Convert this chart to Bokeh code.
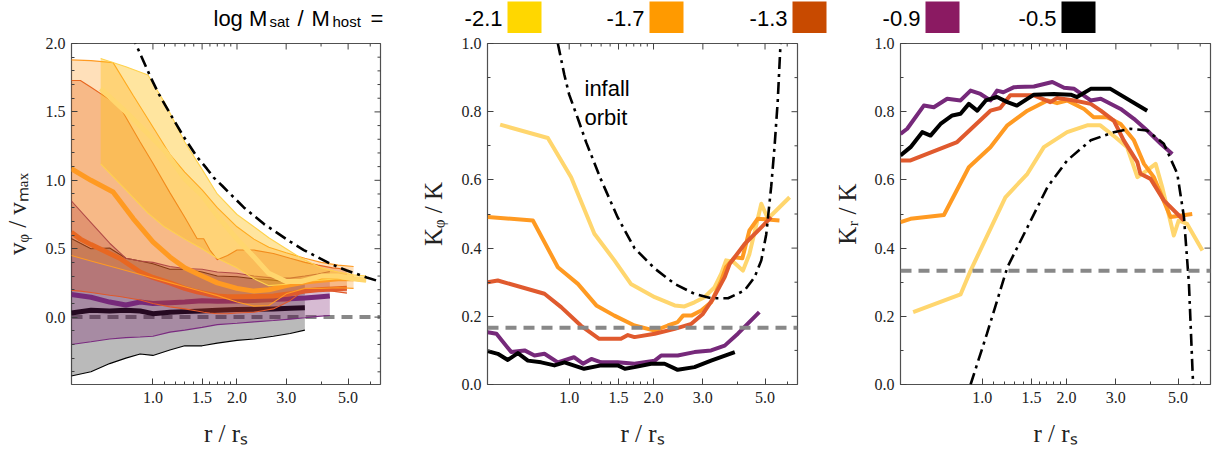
import math
from bokeh.plotting import figure
from bokeh.layouts import column, row
from bokeh.models import FixedTicker, PrintfTickFormatter, Range1d, Span, Label
from bokeh.embed import file_html
from bokeh.resources import INLINE

# ---------------- data ----------------
MASS_LABELS = ["-2.1", "-1.7", "-1.3", "-0.9", "-0.5"]
LEGEND_COLORS = ["#FFD700", "#FF9A00", "#C84A00", "#8B1A62", "#000000"]
LINE_COLORS = ["#FFD66E", "#FF9A22", "#E05A2E", "#76297A", "#000000"]
THIN_COLORS = ["#FFD24D", "#FF9A22", "#E0582A", "#7A2A80", "#000000"]
BAND_COLORS = ["#FFC21A", "#FF8C00", "#D94A10", "#7A1E6E", "#000000"]
BAND_ALPHAS = [0.42, 0.27, 0.29, 0.30, 0.27]

X_TICKS = [1.0, 1.5, 2.0, 3.0, 5.0]
X_MINOR = [1.1, 1.2, 1.3, 1.4, 1.6, 1.7, 1.8, 1.9, 4.0, 6.0]
X_LIM = (0.511, 6.53)

# panel 1: v_phi / v_max  (lower, median, upper per mass ratio)
R1_Y = [0.65, 0.8, 0.96, 1.1, 1.3, 1.5, 1.7, 2.0, 2.3, 2.6, 3.0, 3.4, 4.0, 4.6, 5.2, 5.8]
LO1_Y = [1.12, 0.93, 0.76, 0.66, 0.57, 0.50, 0.43, 0.36, 0.28, 0.23, 0.24, 0.26, 0.27, 0.28, 0.27, 0.26]
MED1_Y = [1.67, 1.50, 1.34, 1.22, 1.01, 0.89, 0.74, 0.57, 0.44, 0.32, 0.26, 0.26, 0.30, 0.30, 0.28, 0.27]
HI1_Y = [1.89, 1.83, 1.77, 1.57, 1.28, 1.08, 0.90, 0.75, 0.66, 0.58, 0.50, 0.43, 0.36, 0.33, 0.31, 0.30]

R1_O = [0.51, 0.6, 0.72, 0.85, 1.0, 1.15, 1.3, 1.5, 1.7, 2.0, 2.3, 2.6, 3.0, 3.5, 4.0, 4.6, 5.23]
LO1_O = [0.45, 0.41, 0.366, 0.326, 0.286, 0.252, 0.222, 0.187, 0.157, 0.11, 0.08, 0.085, 0.17, 0.21, 0.21, 0.215, 0.21]
MED1_O = [1.085, 1.0, 0.915, 0.72, 0.55, 0.44, 0.36, 0.30, 0.25, 0.21, 0.19, 0.20, 0.23, 0.256, 0.27, 0.28, 0.28]
HI1_O = [1.88, 1.875, 1.86, 1.62, 1.39, 1.19, 1.06, 0.93, 0.80, 0.66, 0.57, 0.51, 0.47, 0.43, 0.40, 0.38, 0.37]

R1_R = [0.51, 0.55, 0.6, 0.7, 0.76, 0.9, 1.0, 1.15, 1.3, 1.44, 1.52, 1.6, 1.7, 1.85, 2.0, 2.3, 2.7, 3.1, 3.5, 3.9, 4.4, 4.95]
LO1_R = [0.195, 0.19, 0.18, 0.16, 0.15, 0.125, 0.10, 0.075, 0.06, 0.045, 0.035, 0.03, 0.025, 0.025, 0.03, 0.035, 0.06, 0.12, 0.2, 0.2, 0.19, 0.175]
MED1_R = [0.62, 0.57, 0.53, 0.465, 0.43, 0.33, 0.29, 0.25, 0.21, 0.185, 0.175, 0.165, 0.155, 0.148, 0.148, 0.15, 0.155, 0.17, 0.19, 0.2, 0.205, 0.21]
HI1_R = [1.73, 1.73, 1.68, 1.59, 1.54, 1.28, 1.125, 0.91, 0.73, 0.573, 0.573, 0.49, 0.42, 0.45, 0.49, 0.49, 0.465, 0.43, 0.40, 0.38, 0.36, 0.35]

R1_P = [0.51, 0.6, 0.7, 0.8, 0.9, 1.0, 1.15, 1.3, 1.5, 1.7, 2.0, 2.3, 2.7, 3.1, 3.5, 3.9, 4.3]
LO1_P = [-0.20, -0.18, -0.16, -0.15, -0.145, -0.14, -0.11, -0.095, -0.075, -0.055, -0.045, -0.035, -0.025, -0.015, -0.005, 0.005, 0.012]
MED1_P = [0.165, 0.145, 0.11, 0.088, 0.11, 0.10, 0.105, 0.11, 0.12, 0.115, 0.118, 0.122, 0.128, 0.135, 0.14, 0.147, 0.155]
HI1_P = [0.85, 0.69, 0.54, 0.43, 0.41, 0.40, 0.37, 0.355, 0.35, 0.33, 0.32, 0.30, 0.285, 0.285, 0.30, 0.315, 0.333]

R1_B = [0.51, 0.6, 0.7, 0.8, 0.9, 1.0, 1.15, 1.3, 1.5, 1.7, 2.0, 2.3, 2.7, 3.1, 3.5]
LO1_B = [-0.43, -0.40, -0.34, -0.30, -0.27, -0.28, -0.24, -0.21, -0.21, -0.19, -0.17, -0.16, -0.14, -0.12, -0.095]
MED1_B = [0.03, 0.05, 0.045, 0.05, 0.045, 0.025, 0.035, 0.04, 0.045, 0.05, 0.055, 0.057, 0.06, 0.065, 0.068]
HI1_B = [0.575, 0.50, 0.505, 0.43, 0.41, 0.39, 0.35, 0.35, 0.33, 0.30, 0.295, 0.28, 0.27, 0.255, 0.25]

R1_INF = [0.84, 0.867, 0.98, 1.05, 1.17, 1.29, 1.44, 1.56, 1.65, 1.77, 2.12, 2.5, 3.11, 3.47, 4.32, 4.95, 5.83, 6.6]
V1_INF = [2.08, 2.0, 1.756, 1.63, 1.463, 1.317, 1.17, 1.085, 1.02, 0.96, 0.80, 0.68, 0.55, 0.49, 0.39, 0.34, 0.29, 0.255]

# panel 2: K_phi / K
R2_Y = [0.567, 0.839, 1.016, 1.23, 1.45, 1.66, 2.02, 2.38, 2.58, 2.80, 3.04, 3.30, 3.49, 3.63, 3.85, 4.17, 4.40, 4.85, 5.12, 6.12]
V2_Y = [0.762, 0.723, 0.608, 0.442, 0.364, 0.295, 0.256, 0.232, 0.229, 0.241, 0.256, 0.285, 0.325, 0.364, 0.36, 0.334, 0.383, 0.53, 0.486, 0.549]
R2_O = [0.512, 0.742, 0.911, 1.074, 1.25, 1.45, 1.71, 2.02, 2.25, 2.44, 2.55, 2.73, 2.96, 3.21, 3.49, 3.63, 3.90, 4.15, 4.40, 4.71, 5.63]
V2_O = [0.491, 0.481, 0.344, 0.295, 0.232, 0.202, 0.173, 0.158, 0.173, 0.183, 0.202, 0.202, 0.217, 0.241, 0.305, 0.344, 0.373, 0.37, 0.452, 0.486, 0.481]
R2_R = [0.512, 0.556, 0.816, 0.936, 1.10, 1.28, 1.53, 1.62, 1.71, 2.02, 2.38, 2.73, 3.0, 3.26, 3.59, 3.74, 4.23, 4.85, 5.26]
V2_R = [0.30, 0.305, 0.266, 0.227, 0.173, 0.134, 0.134, 0.145, 0.139, 0.149, 0.163, 0.178, 0.207, 0.251, 0.315, 0.354, 0.412, 0.461, 0.491]
R2_P = [0.512, 0.55, 0.621, 0.693, 0.752, 0.816, 0.911, 1.04, 1.12, 1.20, 1.30, 1.49, 1.71, 2.02, 2.13, 2.44, 2.80, 3.21, 3.59, 4.0, 4.77]
V2_P = [0.153, 0.149, 0.095, 0.10, 0.085, 0.09, 0.065, 0.08, 0.061, 0.075, 0.065, 0.065, 0.061, 0.07, 0.085, 0.085, 0.095, 0.10, 0.114, 0.149, 0.212]
R2_B = [0.512, 0.556, 0.604, 0.656, 0.712, 0.794, 0.886, 0.962, 1.13, 1.30, 1.49, 1.58, 1.71, 1.96, 2.19, 2.44, 2.80, 3.21, 3.90]
V2_B = [0.098, 0.09, 0.072, 0.092, 0.07, 0.065, 0.056, 0.065, 0.046, 0.056, 0.056, 0.046, 0.051, 0.061, 0.061, 0.043, 0.051, 0.07, 0.095]
R2_INF = [0.911, 0.96, 1.0, 1.074, 1.15, 1.3, 1.49, 1.71, 2.02, 2.38, 2.8, 3.21, 3.69, 4.23, 4.59, 4.85, 5.05, 5.26, 5.41, 5.55, 5.68]
V2_INF = [1.0, 0.91, 0.85, 0.78, 0.71, 0.60, 0.49, 0.40, 0.34, 0.295, 0.266, 0.253, 0.253, 0.276, 0.315, 0.364, 0.44, 0.58, 0.70, 0.83, 1.0]

# panel 3: K_r / K
R3_Y = [0.567, 0.837, 0.909, 1.21, 1.45, 1.66, 2.01, 2.37, 2.64, 2.99, 3.29, 3.58, 3.88, 4.16, 4.39, 4.83, 5.03, 5.39, 6.11]
V3_Y = [0.212, 0.264, 0.334, 0.549, 0.618, 0.696, 0.74, 0.76, 0.76, 0.725, 0.696, 0.608, 0.628, 0.647, 0.579, 0.437, 0.481, 0.471, 0.393]
R3_O = [0.511, 0.555, 0.73, 0.896, 1.07, 1.23, 1.45, 1.71, 1.85, 2.01, 2.31, 2.50, 2.79, 3.12, 3.48, 3.78, 4.1, 4.34, 4.7, 5.62]
V3_O = [0.476, 0.486, 0.497, 0.637, 0.696, 0.76, 0.803, 0.833, 0.825, 0.833, 0.808, 0.784, 0.784, 0.764, 0.716, 0.647, 0.608, 0.559, 0.491, 0.50]
R3_R = [0.511, 0.555, 0.814, 1.07, 1.16, 1.26, 1.53, 1.75, 1.85, 2.13, 2.44, 2.65, 2.95, 3.20, 3.58, 3.67, 3.99, 4.45, 5.25]
V3_R = [0.657, 0.657, 0.711, 0.803, 0.811, 0.848, 0.848, 0.828, 0.84, 0.833, 0.823, 0.803, 0.774, 0.716, 0.652, 0.618, 0.603, 0.54, 0.481]
R3_P = [0.511, 0.54, 0.619, 0.672, 0.75, 0.837, 0.909, 0.986, 1.07, 1.13, 1.19, 1.30, 1.53, 1.78, 1.96, 2.13, 2.44, 2.65, 3.12, 3.48, 3.88, 4.34, 4.77]
V3_P = [0.735, 0.75, 0.818, 0.813, 0.838, 0.833, 0.862, 0.852, 0.833, 0.862, 0.857, 0.872, 0.874, 0.887, 0.87, 0.867, 0.833, 0.838, 0.808, 0.779, 0.745, 0.706, 0.676]
R3_B = [0.511, 0.555, 0.611, 0.654, 0.71, 0.782, 0.837, 0.896, 0.96, 1.03, 1.13, 1.23, 1.33, 1.53, 1.80, 2.07, 2.18, 2.44, 2.87, 3.88]
V3_B = [0.672, 0.696, 0.74, 0.73, 0.764, 0.789, 0.794, 0.823, 0.803, 0.833, 0.843, 0.828, 0.818, 0.85, 0.852, 0.85, 0.843, 0.867, 0.867, 0.803]
R3_INF = [0.909, 1.04, 1.23, 1.45, 1.71, 2.01, 2.44, 2.95, 3.38, 3.88, 4.45, 4.97, 5.25, 5.47, 5.66]
V3_INF = [0.0, 0.149, 0.344, 0.461, 0.579, 0.657, 0.716, 0.74, 0.75, 0.745, 0.706, 0.618, 0.491, 0.295, 0.0]

ISOTROPIC = [0.0, 1.0 / 6.0, 1.0 / 3.0]

SERIF = "Liberation Serif"
SANS = "Liberation Sans"
LEG_H = 33
PANEL_H = 453 - LEG_H
TICK_COLOR = "#404040"


def make_panel(width, left, right, ylim, yticks, yminor, ylabel, ylab_standoff):
    p = figure(width=width, height=PANEL_H, x_axis_type="log",
               x_range=Range1d(*X_LIM), y_range=Range1d(*ylim),
               output_backend="svg", toolbar_location=None,
               min_border_left=left, min_border_right=right,
               min_border_top=10, min_border_bottom=69)
    p.grid.visible = False
    p.outline_line_color = "#505050"
    p.outline_line_width = 1.2
    p.background_fill_color = "white"
    p.border_fill_color = "white"
    p.xaxis.ticker = FixedTicker(ticks=X_TICKS, minor_ticks=X_MINOR)
    p.yaxis.ticker = FixedTicker(ticks=yticks, minor_ticks=yminor)
    for ax in p.axis:
        ax.formatter = PrintfTickFormatter(format="%.1f")
        ax.axis_line_color = None
        ax.major_tick_in = 6
        ax.major_tick_out = 0
        ax.minor_tick_in = 3
        ax.minor_tick_out = 0
        ax.major_tick_line_color = TICK_COLOR
        ax.minor_tick_line_color = TICK_COLOR
        ax.major_label_text_font = SERIF
        ax.major_label_text_font_size = "16px"
        ax.major_label_text_color = "#222222"
        ax.axis_label_text_font = SERIF
        ax.axis_label_text_font_size = "25px"
        ax.axis_label_text_font_style = "normal"
        ax.axis_label_text_color = "#222222"
    xa = p.xaxis[0]
    xa.major_label_standoff = 7
    xa.axis_label = "r / rₛ"
    xa.axis_label_standoff = 14
    ya = p.yaxis[0]
    ya.major_label_standoff = 6
    ya.axis_label = ylabel
    ya.axis_label_standoff = ylab_standoff
    # mirrored inward ticks on top and right edges (dash markers centred on the frame edge)
    p.scatter(x=X_TICKS, y=[ylim[1]] * len(X_TICKS), marker="dash", angle=math.pi / 2,
              size=12, line_color=TICK_COLOR, line_width=1)
    p.scatter(x=X_MINOR, y=[ylim[1]] * len(X_MINOR), marker="dash", angle=math.pi / 2,
              size=6, line_color=TICK_COLOR, line_width=1)
    p.scatter(x=[X_LIM[1]] * len(yticks), y=yticks, marker="dash",
              size=12, line_color=TICK_COLOR, line_width=1)
    p.scatter(x=[X_LIM[1]] * len(yminor), y=yminor, marker="dash",
              size=6, line_color=TICK_COLOR, line_width=1)
    return p


def dashdot(p, r, v):
    p.line(r, v, line_color="black", line_width=2.6, line_dash="12 5 3 5")


# ---------- panel 1 ----------
p1 = make_panel(390, 70, 10, (-0.4927, 2.0), [0.0, 0.5, 1.0, 1.5, 2.0],
                [-0.4, -0.3, -0.2, -0.1, 0.1, 0.2, 0.3, 0.4, 0.6, 0.7, 0.8, 0.9,
                 1.1, 1.2, 1.3, 1.4, 1.6, 1.7, 1.8, 1.9], "vᵩ / vₘₐₓ", 12)
p1.add_layout(Span(location=ISOTROPIC[0], dimension="width", line_color="#888888",
                   line_width=4, line_dash="11 7", level="underlay"))
bands = [
    (4, R1_B, LO1_B, MED1_B, HI1_B),
    (3, R1_P, LO1_P, MED1_P, HI1_P),
    (2, R1_R, LO1_R, MED1_R, HI1_R),
    (1, R1_O, LO1_O, MED1_O, HI1_O),
    (0, R1_Y, LO1_Y, MED1_Y, HI1_Y),
]
for i, r, lo, med, hi in bands:
    p1.varea(x=r, y1=lo, y2=hi, fill_color=BAND_COLORS[i], fill_alpha=BAND_ALPHAS[i])
    p1.line(r, lo, line_color=THIN_COLORS[i], line_width=1.1)
    p1.line(r, hi, line_color=THIN_COLORS[i], line_width=1.1)
    p1.line(r, med, line_color=LINE_COLORS[i], line_width=5, line_join="round")
dashdot(p1, R1_INF, V1_INF)

# ---------- panel 2 ----------
p2 = make_panel(417, 97, 10, (0.0, 1.0), [0.0, 0.2, 0.4, 0.6, 0.8, 1.0],
                [0.1, 0.3, 0.5, 0.7, 0.9], "Kᵩ / K", 12)
for i, (r, v) in enumerate([(R2_Y, V2_Y), (R2_O, V2_O), (R2_R, V2_R), (R2_P, V2_P), (R2_B, V2_B)]):
    p2.line(r, v, line_color=LINE_COLORS[i], line_width=4, line_join="round")
p2.add_layout(Span(location=ISOTROPIC[1], dimension="width", line_color="#888888",
                   line_width=4, line_dash="11 7"))
dashdot(p2, R2_INF, V2_INF)
for txt, yv in zip(["infall", "orbit"], [0.867, 0.782]):
    p2.add_layout(Label(x=1.134, y=yv, text=txt, text_font=SANS, text_font_size="22px",
                        text_color="black", text_align="left", text_baseline="alphabetic"))

# ---------- panel 3 ----------
p3 = make_panel(409, 93, 6, (0.0, 1.0), [0.0, 0.2, 0.4, 0.6, 0.8, 1.0],
                [0.1, 0.3, 0.5, 0.7, 0.9], "Kᵣ / K", 11)
for i, (r, v) in enumerate([(R3_Y, V3_Y), (R3_O, V3_O), (R3_R, V3_R), (R3_P, V3_P), (R3_B, V3_B)]):
    p3.line(r, v, line_color=LINE_COLORS[i], line_width=4, line_join="round")
p3.add_layout(Span(location=ISOTROPIC[2], dimension="width", line_color="#888888",
                   line_width=4, line_dash="11 7"))
dashdot(p3, R3_INF, V3_INF)

# ---------- legend strip ----------
TITLE_PIECES = ["log M", "sat", "/", "M", "host", "="]
TITLE_X = [213, 269, 297, 311, 332, 370]
TITLE_SIZES = ["22px", "15px", "22px", "22px", "15px", "22px"]
TITLE_Y = [18, 21, 18, 18, 21, 18]
SWATCH_LEFT = [507, 649, 792, 925, 1061]
SWATCH_W = 34

leg = figure(width=1216, height=LEG_H, x_range=Range1d(0, 1216), y_range=Range1d(0, LEG_H),
             output_backend="svg", toolbar_location=None, min_border=0,
             x_axis_location=None, y_axis_location=None, outline_line_color=None)
leg.grid.visible = False
for t, x, s, y in zip(TITLE_PIECES, TITLE_X, TITLE_SIZES, TITLE_Y):
    leg.add_layout(Label(x=x, y=LEG_H - y, text=t, text_font=SANS, text_font_size=s,
                         text_color="black", text_align="left", text_baseline="middle"))
leg.quad(left=SWATCH_LEFT, right=[s + SWATCH_W for s in SWATCH_LEFT],
         top=[LEG_H - 1] * 5, bottom=[0] * 5, fill_color=LEGEND_COLORS, line_color=None)
for s, t in zip(SWATCH_LEFT, MASS_LABELS):
    leg.add_layout(Label(x=s - 5, y=LEG_H - 18, text=t, text_font=SANS, text_font_size="22px",
                         text_color="black", text_align="right", text_baseline="middle"))

layout = column(leg, row(p1, p2, p3))
open("out.html", "w").write(file_html(layout, INLINE))
